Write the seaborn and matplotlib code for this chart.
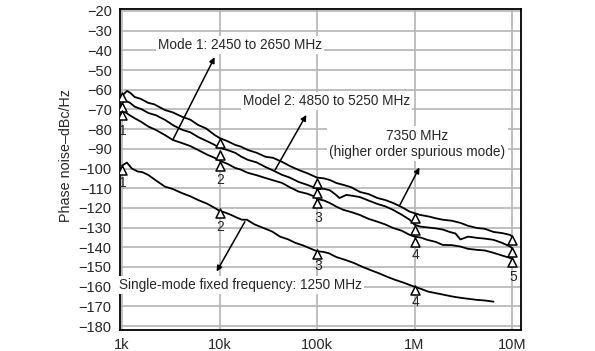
import numpy as np
import pandas as pd
import matplotlib
matplotlib.use('Agg')
import matplotlib.pyplot as plt
import seaborn as sns

# log10(offset frequency) and phase noise (dBc/Hz)
spur_logf = [3.00, 3.05, 3.09, 3.13, 3.19, 3.27, 3.33, 3.44, 3.52, 3.62, 3.70, 3.78, 3.86, 3.95,
             4.00, 4.08, 4.16, 4.22, 4.29, 4.38, 4.47, 4.55, 4.64, 4.72, 4.81, 4.90, 5.00, 5.07,
             5.13, 5.20, 5.27, 5.35, 5.44, 5.53, 5.62, 5.70, 5.78, 5.87, 5.95, 6.06, 6.15, 6.22,
             6.29, 6.38, 6.47, 6.55, 6.64, 6.72, 6.81, 6.90, 6.98, 7.00]
spur_db = [-63.1, -60.6, -61.8, -63.7, -64.6, -66.7, -67.4, -70.3, -71.5, -73.8, -75.2, -77.9, -79.6, -83.0,
           -84.5, -86.1, -88.0, -88.9, -90.6, -92.0, -94.0, -94.6, -96.6, -98.7, -100.7, -102.4, -104.6, -105.0,
           -105.8, -107.4, -108.3, -109.5, -111.9, -113.0, -115.0, -116.0, -117.5, -119.6, -121.9, -123.6, -124.4, -125.3,
           -126.0, -126.5, -127.6, -129.1, -130.2, -130.6, -132.2, -132.8, -133.7, -134.5]

mode2_logf = [3.00, 3.03, 3.08, 3.13, 3.20, 3.27, 3.35, 3.44, 3.53, 3.62, 3.70, 3.78, 3.87, 3.95,
              4.00, 4.08, 4.16, 4.22, 4.29, 4.38, 4.47, 4.55, 4.64, 4.72, 4.81, 4.90, 4.98, 5.00,
              5.07, 5.13, 5.19, 5.23, 5.30, 5.37, 5.44, 5.53, 5.62, 5.70, 5.78, 5.87, 5.95, 6.00,
              6.06, 6.15, 6.22, 6.29, 6.36, 6.42, 6.47, 6.55, 6.64, 6.72, 6.81, 6.90, 6.98, 7.00]
mode2_db = [-66.8, -65.5, -66.6, -68.6, -69.9, -71.8, -73.0, -75.3, -78.2, -80.4, -81.6, -84.0, -86.1, -88.0,
            -89.5, -90.6, -92.0, -93.9, -95.6, -96.9, -99.2, -101.0, -103.2, -104.6, -106.8, -108.3, -109.8, -110.5,
            -110.3, -111.0, -113.2, -115.0, -113.4, -113.9, -114.5, -116.3, -118.0, -119.2, -121.0, -123.5, -126.0, -128.5,
            -129.5, -130.0, -130.4, -131.0, -132.2, -133.0, -136.0, -134.6, -135.2, -135.6, -136.2, -137.8, -139.6, -140.5]

mode1_logf = [3.00, 3.02, 3.08, 3.13, 3.20, 3.27, 3.35, 3.44, 3.52, 3.61, 3.70, 3.78, 3.87, 3.95,
              4.00, 4.08, 4.16, 4.22, 4.29, 4.38, 4.47, 4.55, 4.64, 4.72, 4.81, 4.90, 4.98, 5.00,
              5.07, 5.13, 5.20, 5.27, 5.35, 5.44, 5.53, 5.62, 5.70, 5.78, 5.87, 5.95, 6.00, 6.06,
              6.13, 6.22, 6.29, 6.38, 6.47, 6.55, 6.64, 6.72, 6.81, 6.90, 6.98, 7.00]
mode1_db = [-72.0, -71.0, -73.0, -74.5, -76.4, -78.7, -80.5, -83.0, -85.5, -87.0, -88.6, -90.6, -92.9, -94.6,
            -96.0, -97.6, -99.7, -100.6, -102.2, -103.4, -104.8, -106.0, -107.3, -109.5, -111.7, -112.8, -114.3, -115.5,
            -116.2, -117.5, -119.4, -121.0, -122.1, -123.6, -125.6, -127.0, -128.4, -130.2, -131.6, -133.7, -134.6, -135.0,
            -136.2, -137.3, -138.8, -138.9, -139.6, -140.8, -141.3, -141.6, -142.8, -144.2, -145.4, -146.0]

single_logf = [3.00, 3.05, 3.10, 3.16, 3.21, 3.27, 3.34, 3.44, 3.52, 3.61, 3.70, 3.78, 3.87, 3.95,
               4.00, 4.06, 4.12, 4.18, 4.23, 4.28, 4.36, 4.45, 4.54, 4.62, 4.70, 4.78, 4.86, 4.95,
               5.00, 5.06, 5.12, 5.20, 5.29, 5.38, 5.46, 5.55, 5.63, 5.72, 5.80, 5.89, 5.97, 6.00,
               6.07, 6.14, 6.22, 6.31, 6.40, 6.48, 6.56, 6.64, 6.72, 6.81]
single_db = [-98.5, -97.0, -100.0, -101.5, -101.9, -103.3, -105.8, -109.2, -110.4, -112.4, -114.1, -116.0, -117.8, -120.0,
             -121.5, -122.4, -123.6, -125.0, -126.0, -126.0, -128.4, -130.2, -132.0, -134.6, -135.9, -137.8, -139.1, -141.0,
             -142.0, -142.3, -143.0, -145.0, -146.4, -148.0, -149.8, -151.6, -153.1, -155.0, -156.5, -158.0, -159.5, -160.0,
             -161.2, -162.5, -163.3, -164.2, -165.1, -165.7, -166.2, -166.7, -167.0, -167.6]

# triangle markers at each decade (1k .. 10M)
marker_logf = [3, 4, 5, 6, 7]
spur_marks = [-63.5, -87.0, -107.3, -125.0, -136.2]
mode2_marks = [-68.6, -93.0, -112.4, -131.2, -142.3]
mode1_marks = [-73.0, -98.5, -117.5, -137.3, -147.4]
single_marks = [-100.7, -122.8, -143.5, -161.8]
group_num_db = [-81.0, -105.8, -125.0, -143.9, -155.0]
single_num_db = [-107.3, -129.6, -149.4, -167.7]

yticks = list(range(-20, -181, -10))
xticks = [1e3, 1e4, 1e5, 1e6, 1e7]
xticklabels = ['1k', '10k', '100k', '1M', '10M']

curves = pd.concat([
    pd.DataFrame({'freq': 10 ** np.array(spur_logf), 'dB': spur_db, 'curve': '7350'}),
    pd.DataFrame({'freq': 10 ** np.array(mode2_logf), 'dB': mode2_db, 'curve': 'mode2'}),
    pd.DataFrame({'freq': 10 ** np.array(mode1_logf), 'dB': mode1_db, 'curve': 'mode1'}),
    pd.DataFrame({'freq': 10 ** np.array(single_logf), 'dB': single_db, 'curve': 'single'}),
])
marks = pd.concat([
    pd.DataFrame({'freq': 10.0 ** np.array(marker_logf), 'dB': spur_marks}),
    pd.DataFrame({'freq': 10.0 ** np.array(marker_logf), 'dB': mode2_marks}),
    pd.DataFrame({'freq': 10.0 ** np.array(marker_logf), 'dB': mode1_marks}),
    pd.DataFrame({'freq': 10.0 ** np.array(marker_logf[:4]), 'dB': single_marks}),
])

sns.set_style("white")
plt.rcParams['font.family'] = ['Liberation Sans', 'DejaVu Sans']

fig = plt.figure(figsize=(5.95, 3.51), dpi=100)
ax = fig.add_axes([0.2017, 0.0598, 0.6739, 0.9146])
ax.set_xscale('log')

sns.lineplot(data=curves, x='freq', y='dB', units='curve', estimator=None,
             color='black', lw=1.3, sort=False, ax=ax, zorder=3)
sns.scatterplot(data=marks, x='freq', y='dB', marker='^', s=42, color='white',
                edgecolor='black', linewidth=1.1, ax=ax, zorder=4)

for lf, y in zip(marker_logf, group_num_db):
    ax.text(10 ** lf * 1.02, y, str(marker_logf.index(lf) + 1), ha='center', va='center',
            fontsize=10, zorder=5)
for lf, y in zip(marker_logf[:4], single_num_db):
    ax.text(10 ** lf * 1.02, y, str(marker_logf.index(lf) + 1), ha='center', va='center',
            fontsize=10, zorder=5)

box = dict(facecolor='white', edgecolor='none', pad=1.5)
ax.text(10 ** 3.37, -37.3, 'Mode 1: 2450 to 2650 MHz', ha='left', va='center', fontsize=9.8, bbox=box, zorder=5)
ax.text(10 ** 4.24, -65.7, 'Model 2: 4850 to 5250 MHz', ha='left', va='center', fontsize=9.8, bbox=box, zorder=5)
ax.text(10 ** 6.03, -87.5, '7350 MHz\n(higher order spurious mode)', ha='center', va='center',
        multialignment='center', fontsize=9.8, bbox=box, zorder=5, linespacing=1.25)
ax.text(10 ** 4.215, -159.2, 'Single-mode fixed frequency: 1250 MHz', ha='center', va='center',
        fontsize=9.8, bbox=box, zorder=5)

arrow = dict(arrowstyle='-|>', color='black', lw=1.1, mutation_scale=8, shrinkA=0, shrinkB=0)
ax.annotate('', xy=(10 ** 3.95, -43.5), xytext=(10 ** 3.52, -85.5), arrowprops=arrow, zorder=4)
ax.annotate('', xy=(10 ** 4.89, -72.8), xytext=(10 ** 4.57, -100.7), arrowprops=arrow, zorder=4)
ax.annotate('', xy=(10 ** 6.05, -99.5), xytext=(10 ** 5.85, -118.5), arrowprops=arrow, zorder=4)
ax.annotate('', xy=(10 ** 3.97, -152.3), xytext=(10 ** 4.26, -127.0), arrowprops=arrow, zorder=4)

ax.set_xlim(10 ** 2.979, 10 ** 7.092)
ax.set_ylim(-182, -19)
ax.set_yticks(yticks)
ax.set_xticks(xticks)
ax.set_xticklabels(xticklabels)
ax.minorticks_off()
ax.grid(True, color='#b4b4b4', lw=1.2)
ax.set_axisbelow(True)
ax.tick_params(axis='y', direction='out', length=5, width=1.2, color='#b4b4b4', labelsize=10.5, pad=1)
ax.tick_params(axis='x', direction='out', length=3, width=1.0, color='#b4b4b4', labelsize=10.5, pad=3)
for s in ax.spines.values():
    s.set_color('black')
    s.set_linewidth(1.3)

ax.set_xlabel('')
ax.set_ylabel('Phase noise–dBc/Hz', fontsize=10.3)
ax.yaxis.set_label_coords(-0.118, 0.545)

plt.savefig('out.png', dpi=100)
plt.clf()
